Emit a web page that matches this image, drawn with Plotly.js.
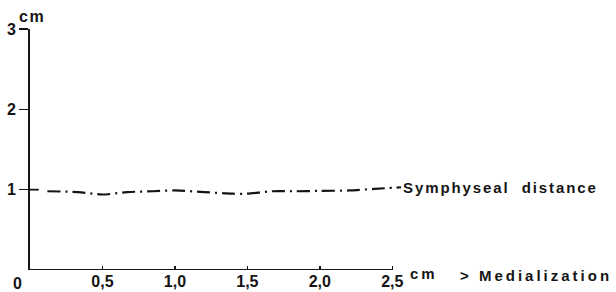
<!DOCTYPE html>
<html>
<head>
<meta charset="utf-8">
<script src="https://cdn.plot.ly/plotly-3.0.1.min.js"></script>
<style>
  html, body { margin: 0; padding: 0; background: #fff; }
  #chart { width: 616px; height: 292px; }
</style>
</head>
<body>
<div id="chart"></div>
<script>
// Data
const medialization = [0.12, 0.33, 0.5, 0.67, 0.85, 1.0, 1.2, 1.4, 1.5, 1.67, 1.83, 2.0, 2.2, 2.38, 2.56];
const symphysealDistance = [0.98, 0.97, 0.94, 0.97, 0.98, 0.99, 0.97, 0.95, 0.95, 0.98, 0.98, 0.985, 0.99, 1.01, 1.03];
const xTickVals = [0.5, 1.0, 1.5, 2.0, 2.5];
const xTickText = ["0,5", "1,0", "1,5", "2,0", "2,5"];
const yTickVals = [1, 2, 3];
const yTickText = ["1", "2", "3"];
const seriesLabel = "Symphyseal&nbsp;&nbsp;distance";

const ink = "#151515";
const fontFam = "Liberation Sans, Arial, sans-serif";
const sp = (t, ls) => '<span style="letter-spacing:' + ls + 'px">' + t + '</span>';

const trace = {
  x: medialization,
  y: symphysealDistance,
  mode: "lines",
  type: "scatter",
  line: { color: ink, width: 2.2, dash: "13px,5px,2px,5px", shape: "spline", smoothing: 0.8 },
  hoverinfo: "none",
  showlegend: false
};

const layout = {
  width: 616, height: 292,
  margin: { l: 30, r: 215, t: 29, b: 22, pad: 0 },
  paper_bgcolor: "#fff", plot_bgcolor: "#fff",
  font: { family: fontFam, color: ink, size: 15, weight: 700 },
  showlegend: false,
  xaxis: {
    range: [0, 2.56], showgrid: false, zeroline: false, showline: false,
    tickmode: "array", tickvals: xTickVals, ticktext: xTickText,
    ticks: "inside", ticklen: 4, tickwidth: 1.5, tickcolor: ink,
    tickfont: { family: fontFam, size: 16, color: ink, weight: 700 },
    ticklabelstandoff: 0, fixedrange: true
  },
  yaxis: {
    range: [0, 3], showgrid: false, zeroline: false, showline: true,
    linecolor: ink, linewidth: 2,
    tickmode: "array", tickvals: yTickVals, ticktext: yTickText,
    ticks: "outside", ticklen: 9, tickwidth: 1.5, tickcolor: ink,
    tickfont: { family: fontFam, size: 16, color: ink, weight: 700 },
    ticklabelstandoff: 0, fixedrange: true
  },
  shapes: [
    { type: "line", xref: "x", yref: "y", x0: 0, x1: 2.5, y0: 0, y1: 0,
      line: { color: ink, width: 2 } },
    { type: "line", xref: "x", yref: "y", x0: 0, x1: 0.06, y0: 1, y1: 1,
      line: { color: ink, width: 1.8 } },
    { type: "line", xref: "x", yref: "y", x0: -0.06, x1: 0.04, y0: 0, y1: 0,
      line: { color: ink, width: 1.5 } }
  ],
  annotations: [
    { text: sp("cm", 1.5), xref: "paper", yref: "paper", x: 0, y: 1, xanchor: "center", yanchor: "bottom",
      xshift: 2, yshift: 2, showarrow: false, font: { size: 16, weight: 700 } },
    { text: "0", xref: "x", yref: "paper", x: 0, y: 0, xanchor: "center", yanchor: "top",
      xshift: -13, yshift: -3, showarrow: false, font: { size: 16, weight: 700 } },
    { text: sp(seriesLabel, 1.9), xref: "x", yref: "y",
      x: medialization[medialization.length - 1], y: symphysealDistance[symphysealDistance.length - 1],
      xanchor: "left", yanchor: "middle", xshift: 0, yshift: 0, showarrow: false,
      font: { size: 15, weight: 700 } },
    { text: sp("cm", 3), xref: "x", yref: "paper", x: 2.5, y: 0, xanchor: "left", yanchor: "middle",
      xshift: 16, yshift: -3, showarrow: false, font: { size: 15, weight: 700 } },
    { text: sp("&gt;&nbsp;Medialization", 3), xref: "paper", yref: "paper", x: 1, y: 0,
      xanchor: "left", yanchor: "middle", xshift: 57, yshift: -5, showarrow: false,
      font: { size: 15, weight: 700 } }
  ]
};

Plotly.newPlot("chart", [trace], layout, { displayModeBar: false, staticPlot: true });
</script>
</body>
</html>
